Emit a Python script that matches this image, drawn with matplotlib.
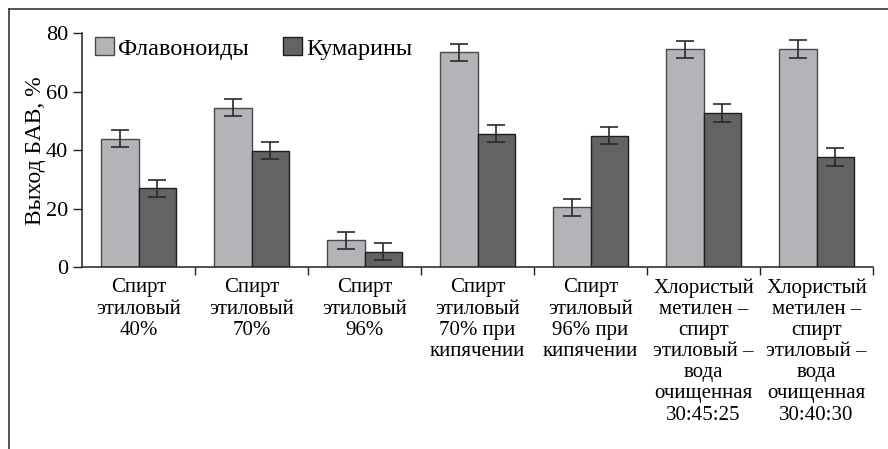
import matplotlib
matplotlib.use("Agg")
import matplotlib.pyplot as plt
from matplotlib.lines import Line2D
import numpy as np

plt.rcParams['font.family'] = ['Liberation Serif', 'DejaVu Serif']

categories = [
    "Спирт\nэтиловый\n40%",
    "Спирт\nэтиловый\n70%",
    "Спирт\nэтиловый\n96%",
    "Спирт\nэтиловый\n70% при\nкипячении",
    "Спирт\nэтиловый\n96% при\nкипячении",
    "Хлористый\nметилен –\nспирт\nэтиловый –\nвода\nочищенная\n30:45:25",
    "Хлористый\nметилен –\nспирт\nэтиловый –\nвода\nочищенная\n30:40:30",
]
flavonoids = [44.0, 54.6, 9.3, 73.5, 20.5, 74.5, 74.7]
flavonoids_err = [3.0, 3.0, 2.9, 2.9, 3.0, 3.0, 3.0]
coumarins = [27.0, 39.8, 5.3, 45.7, 45.0, 52.8, 37.7]
coumarins_err = [2.9, 2.9, 2.9, 3.0, 3.0, 3.0, 3.0]
series_names = ["Флавоноиды", "Кумарины"]
yticks = [0, 20, 40, 60, 80]

fig = plt.figure(figsize=(8.88, 4.49), dpi=100)
ax = fig.add_axes([82/888, 1-267.3/449, (873-82)/888, (267.3-33.3)/449])

x = np.arange(len(categories))
w = 1/3
c_flav = "#b3b4b8"
c_kum = "#636365"
err_kw = dict(ecolor="#2a2a2a", elinewidth=1.2, capsize=6.4, capthick=1.2)
ax.bar(x - w/2, flavonoids, w, yerr=flavonoids_err, color=c_flav,
       edgecolor="#4a4a4a", linewidth=1.0, error_kw=err_kw, label=series_names[0], zorder=2)
ax.bar(x + w/2, coumarins, w, yerr=coumarins_err, color=c_kum,
       edgecolor="#1e1e1e", linewidth=1.0, error_kw=err_kw, label=series_names[1], zorder=2)

ax.set_xlim(-0.5, len(categories) - 0.5)
ax.set_ylim(0, 80)
ax.set_yticks(yticks)
ax.set_yticklabels([str(v) for v in yticks], fontsize=16)
ax.tick_params(axis='y', length=6.5, width=1.0, pad=3.5, color="#222222")

ax.set_xticks(x)
ax.set_xticklabels(categories, fontsize=15, linespacing=1.15, va='top')
ax.tick_params(axis='x', which='major', length=0, pad=8)
ax.set_xticks(np.arange(len(categories)) + 0.5, minor=True)
ax.tick_params(axis='x', which='minor', length=6, width=1.0, color="#222222")

for s in ['top', 'right']:
    ax.spines[s].set_visible(False)
for s in ['left', 'bottom']:
    ax.spines[s].set_linewidth(1.1)
    ax.spines[s].set_color("#222222")

ax.set_ylabel("Выход БАВ, %", fontsize=17, labelpad=0)

leg = ax.legend(loc='upper left', ncol=2, frameon=False, fontsize=17.5,
                handlelength=0.78, handleheight=0.78, handletextpad=0.18,
                columnspacing=1.4, borderpad=0, borderaxespad=0,
                bbox_to_anchor=((95-82)/791, (267.3-37)/234))

# outer frame (top and left)
fig.add_artist(Line2D([8.5/888, 8.5/888], [0, 1-8.5/449], transform=fig.transFigure,
                      color="#444444", linewidth=1.3))
fig.add_artist(Line2D([8.5/888, 1], [1-8.5/449, 1-8.5/449], transform=fig.transFigure,
                      color="#444444", linewidth=1.3))

fig.savefig("out.png", dpi=100)
